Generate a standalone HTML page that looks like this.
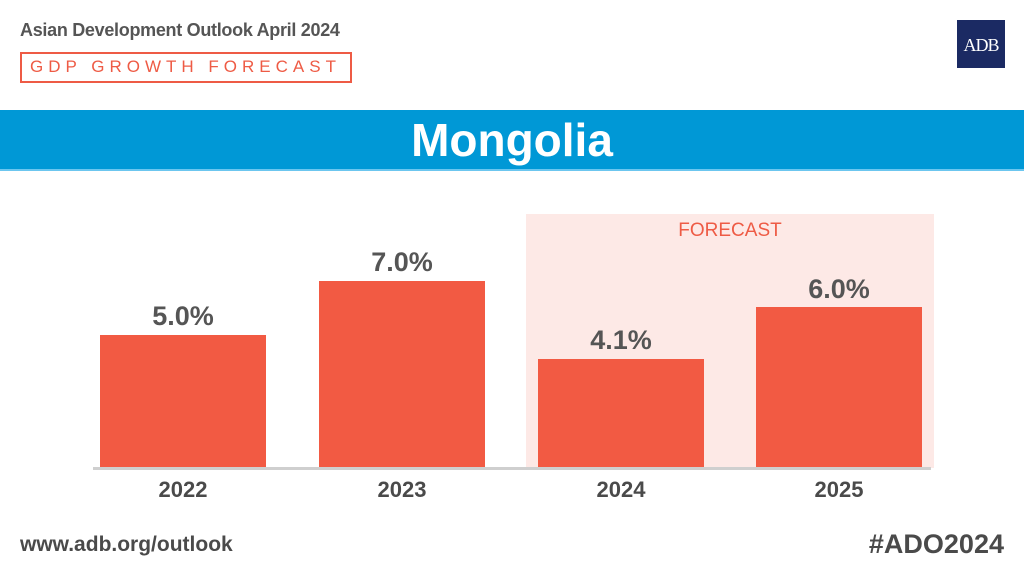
<!DOCTYPE html>
<html><head><style>
*{margin:0;padding:0;box-sizing:border-box}
body{width:1024px;height:576px;background:#fff;position:relative;overflow:hidden;font-family:"Liberation Sans",sans-serif}
.a{position:absolute}
.bar{position:absolute;background:#f25a43}
.v{position:absolute;width:166px;text-align:center;font-weight:bold;font-size:27px;color:#555}
.y{position:absolute;width:166px;text-align:center;font-weight:bold;font-size:22px;color:#4a4a4a;top:477px}
</style></head><body>
<div class="a" style="left:20px;top:20px;font-size:18px;font-weight:bold;color:#555;letter-spacing:-0.3px">Asian Development Outlook April 2024</div>
<div class="a" style="left:20px;top:52px;width:332px;height:31px;border:2.5px solid #ee5b45;color:#ee5b45;font-size:17px;letter-spacing:5px;line-height:26px;padding-left:8px">GDP GROWTH FORECAST</div>
<div class="a" style="left:957px;top:20px;width:48px;height:48px;background:#1b2a63;color:#fff;font-family:'Liberation Serif',serif;font-size:18px;line-height:50px;text-align:center;letter-spacing:-1px">ADB</div>
<div class="a" style="left:0;top:110px;width:1024px;height:61px;background:#0098d6;border-bottom:2px solid #6cc6ef;color:#fff;font-weight:bold;font-size:46px;text-align:center;line-height:60px">Mongolia</div>
<div class="a" style="left:526px;top:214px;width:408px;height:254px;background:#fde9e6"></div>
<div class="a" style="left:526px;top:220px;width:408px;text-align:center;color:#ee5b45;font-size:19px">FORECAST</div>
<div class="bar" style="left:100px;top:335px;width:166px;height:133px"></div>
<div class="bar" style="left:319px;top:281px;width:166px;height:187px"></div>
<div class="bar" style="left:538px;top:359px;width:166px;height:109px"></div>
<div class="bar" style="left:756px;top:307px;width:166px;height:161px"></div>
<div class="v" style="left:100px;top:301px">5.0%</div>
<div class="v" style="left:319px;top:247px">7.0%</div>
<div class="v" style="left:538px;top:325px">4.1%</div>
<div class="v" style="left:756px;top:274px">6.0%</div>
<div class="a" style="left:93px;top:467px;width:838px;height:3px;background:#cfcfcf"></div>
<div class="y" style="left:100px">2022</div>
<div class="y" style="left:319px">2023</div>
<div class="y" style="left:538px">2024</div>
<div class="y" style="left:756px">2025</div>
<div class="a" style="left:20px;top:533px;font-size:21px;font-weight:bold;color:#4a4a4a">www.adb.org/outlook</div>
<div class="a" style="right:20px;top:529px;font-size:27px;font-weight:bold;color:#4a4a4a">#ADO2024</div>
</body></html>
